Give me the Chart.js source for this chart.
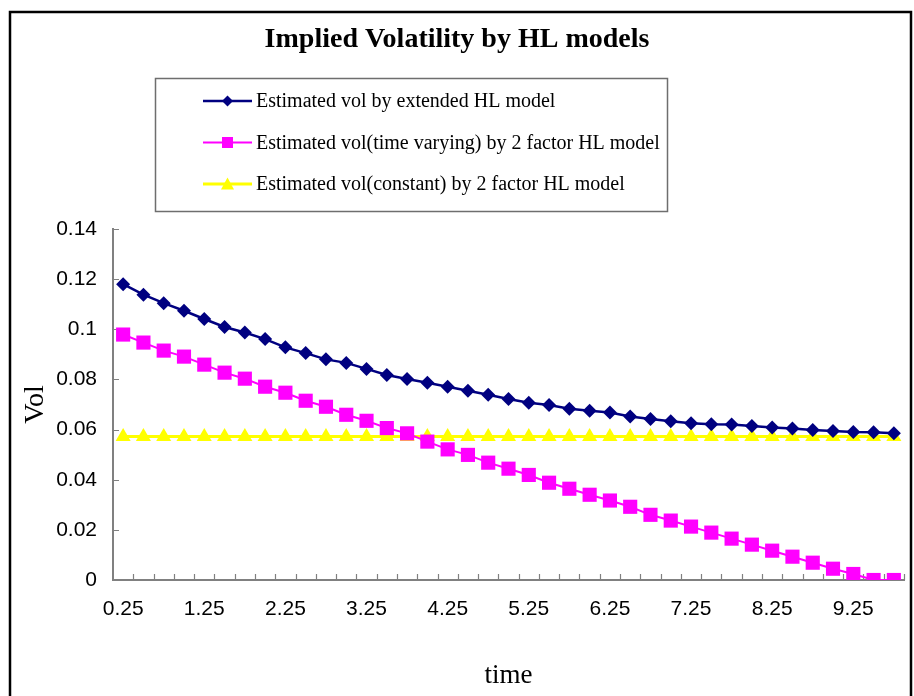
<!DOCTYPE html>
<html>
<head>
<meta charset="utf-8">
<style>
  body { margin: 0; background: #fff; }
  #wrap { width: 914px; height: 696px; position: relative; }
</style>
</head>
<body>
<div id="wrap"><canvas id="chart" width="914" height="696"></canvas></div>
<script src="https://cdn.jsdelivr.net/npm/chart.js"></script>
<script>
// ---- data ----
const times = ['0.25', '0.5', '0.75', '1', '1.25', '1.5', '1.75', '2', '2.25', '2.5',
  '2.75', '3', '3.25', '3.5', '3.75', '4', '4.25', '4.5', '4.75', '5',
  '5.25', '5.5', '5.75', '6', '6.25', '6.5', '6.75', '7', '7.25', '7.5',
  '7.75', '8', '8.25', '8.5', '8.75', '9', '9.25', '9.5', '9.75'];

const volExtended = [0.118, 0.1138, 0.1104, 0.1074, 0.1041, 0.1009, 0.0987, 0.0961, 0.0928, 0.0905,
  0.088, 0.0866, 0.0842, 0.0818, 0.0802, 0.0787, 0.0771, 0.0755, 0.0739, 0.0722,
  0.0707, 0.0698, 0.0683, 0.0675, 0.0668, 0.0652, 0.0642, 0.0633, 0.0625, 0.0621,
  0.062, 0.0614, 0.0608, 0.0604, 0.0598, 0.0594, 0.059, 0.0589, 0.0585];

const volTimeVarying = [0.0979, 0.0947, 0.0915, 0.0891, 0.0859, 0.0827, 0.0803, 0.0771, 0.0747, 0.0715,
  0.0691, 0.0659, 0.0635, 0.0606, 0.0585, 0.0552, 0.0521, 0.0499, 0.0468, 0.0444,
  0.0419, 0.0388, 0.0364, 0.034, 0.0317, 0.0292, 0.026, 0.0237, 0.0213, 0.0189,
  0.0165, 0.0141, 0.0117, 0.0093, 0.0069, 0.0045, 0.0024, 0, 0];

const volConstant = [0.0572, 0.0572, 0.0572, 0.0572, 0.0572, 0.0572, 0.0572, 0.0572, 0.0572, 0.0572,
  0.0572, 0.0572, 0.0572, 0.0572, 0.0572, 0.0572, 0.0572, 0.0572, 0.0572, 0.0572,
  0.0572, 0.0572, 0.0572, 0.0572, 0.0572, 0.0572, 0.0572, 0.0572, 0.0572, 0.0572,
  0.0572, 0.0572, 0.0572, 0.0572, 0.0572, 0.0572, 0.0572, 0.0572, 0.0572];

const seriesNames = [
  'Estimated vol by extended HL model',
  'Estimated vol(time varying) by 2 factor HL model',
  'Estimated vol(constant) by 2 factor HL model'
];

const yTicks = [0, 0.02, 0.04, 0.06, 0.08, 0.1, 0.12, 0.14];

const SERIF = '"Liberation Serif", "Times New Roman", serif';
const SANS = '"Liberation Sans", Arial, sans-serif';

// marker drawing for the hand-made legend
function drawMarker(ctx, style, x, y, color) {
  ctx.fillStyle = color;
  ctx.beginPath();
  if (style === 'rectRot') {
    ctx.moveTo(x, y - 5.5); ctx.lineTo(x + 5.5, y); ctx.lineTo(x, y + 5.5); ctx.lineTo(x - 5.5, y);
  } else if (style === 'rect') {
    ctx.rect(x - 5.5, y - 5.5, 11, 11);
  } else {
    ctx.moveTo(x, y - 6.5); ctx.lineTo(x + 6.5, y + 5.5); ctx.lineTo(x - 6.5, y + 5.5);
  }
  ctx.closePath();
  ctx.fill();
}

const decor = {
  id: 'decor',
  beforeDatasetsDraw(chart) {
    // inward tick marks, Excel style
    const ctx = chart.ctx, xs = chart.scales.x, ys = chart.scales.y;
    ctx.save();
    ctx.strokeStyle = '#808080';
    ctx.lineWidth = 1.2;
    const w = xs.getPixelForValue(1) - xs.getPixelForValue(0);
    ctx.beginPath();
    for (let k = 1; k <= times.length; k++) {
      const px = Math.round(xs.getPixelForValue(k - 1) + w / 2) + 0.5;
      ctx.moveTo(px, ys.bottom); ctx.lineTo(px, ys.bottom - 6);
    }
    yTicks.forEach(v => {
      const py = Math.round(ys.getPixelForValue(v)) + 0.5;
      ctx.moveTo(xs.left, py); ctx.lineTo(xs.left + 6, py);
    });
    ctx.stroke();
    ctx.restore();
  },
  afterDraw(chart) {
    const ctx = chart.ctx;
    ctx.save();
    // outer frame
    ctx.strokeStyle = '#000';
    ctx.lineWidth = 2.5;
    ctx.strokeRect(10, 12, 901, 700);

    // title
    ctx.fillStyle = '#000';
    ctx.font = 'bold 28px ' + SERIF;
    ctx.textAlign = 'center';
    ctx.textBaseline = 'middle';
    ctx.fillText('Implied Volatility by HL models', 457, 40);

    // legend box
    ctx.strokeStyle = '#6e6e6e';
    ctx.lineWidth = 1.5;
    ctx.strokeRect(155.5, 78.5, 512, 133);
    ctx.font = '20px ' + SERIF;
    ctx.textAlign = 'left';
    const rows = [101, 142.5, 184];
    chart.data.datasets.forEach((ds, i) => {
      const y = rows[i];
      ctx.strokeStyle = ds.borderColor;
      ctx.lineWidth = ds.borderWidth;
      ctx.beginPath();
      ctx.moveTo(203, y); ctx.lineTo(252, y);
      ctx.stroke();
      drawMarker(ctx, ds.pointStyle, 227.5, y, ds.pointBackgroundColor);
      ctx.fillStyle = '#000';
      ctx.fillText(ds.label, 256, y + 1);
    });
    ctx.restore();
  }
};

new Chart(document.getElementById('chart').getContext('2d'), {
  type: 'line',
  data: {
    labels: times,
    datasets: [
      {
        label: seriesNames[0], data: volExtended,
        borderColor: '#000080', borderWidth: 2.5,
        pointStyle: 'rectRot', pointRadius: 7, pointBorderWidth: 0,
        pointBackgroundColor: '#000080', pointBorderColor: '#000080', tension: 0
      },
      {
        label: seriesNames[1], data: volTimeVarying,
        borderColor: '#ff00ff', borderWidth: 2,
        pointStyle: 'rect', pointRadius: 10, pointBorderWidth: 0,
        pointBackgroundColor: '#ff00ff', pointBorderColor: '#ff00ff', tension: 0
      },
      {
        label: seriesNames[2], data: volConstant,
        borderColor: '#ffff00', borderWidth: 3,
        pointStyle: 'triangle', pointRadius: 8.7, pointBorderWidth: 0,
        pointBackgroundColor: '#ffff00', pointBorderColor: '#ffff00', tension: 0
      }
    ]
  },
  options: {
    responsive: false,
    animation: false,
    layout: { padding: { top: 229, right: 8, left: 0, bottom: 0 } },
    plugins: { legend: { display: false }, title: { display: false }, tooltip: { enabled: false } },
    scales: {
      x: {
        type: 'category',
        offset: true,
        afterFit: s => { s.height = 116; },
        grid: { display: false, drawTicks: false },
        border: { display: true, color: '#808080', width: 2 },
        ticks: {
          autoSkip: false, maxRotation: 0, minRotation: 0, padding: 17,
          color: '#000', font: { family: SANS, size: 21 },
          callback: (v, i) => (i % 4 === 0 ? times[i] : '')
        },
        title: {
          display: true, text: 'time', color: '#000',
          font: { family: SERIF, size: 27 }, padding: { top: 0, bottom: 4 }
        }
      },
      y: {
        min: 0, max: 0.14,
        afterFit: s => { s.width = 113; },
        afterBuildTicks: s => { s.ticks = yTicks.map(v => ({ value: v })); },
        grid: { display: false, drawTicks: false },
        border: { display: true, color: '#808080', width: 2 },
        ticks: {
          padding: 16, color: '#000', font: { family: SANS, size: 21 },
          callback: v => String(+v.toFixed(2))
        },
        title: {
          display: true, text: 'Vol', color: '#000',
          font: { family: SERIF, size: 28 }, padding: { top: 19, bottom: 0 }
        }
      }
    }
  },
  plugins: [decor]
});
</script>
</body>
</html>
